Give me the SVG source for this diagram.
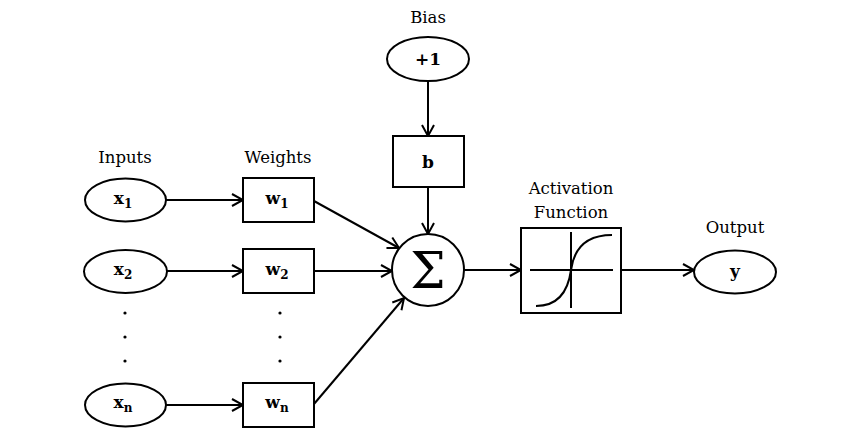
<svg xmlns="http://www.w3.org/2000/svg" width="868" height="433" viewBox="0 0 868 433">
<defs>
<marker id="arr" markerUnits="userSpaceOnUse" markerWidth="14" markerHeight="14" refX="12" refY="7" orient="auto">
<path d="M1,1 L12,7 L1,13" fill="none" stroke="#000" stroke-width="2"/>
</marker>
<style>
.sh{fill:#fff;stroke:#000;stroke-width:2}
.ln{fill:none;stroke:#000;stroke-width:2}
.lbl{font-family:"DejaVu Serif","Liberation Serif",serif;font-size:16.5px;fill:#000;text-anchor:middle}
.nd{font-family:"DejaVu Serif","Liberation Serif",serif;font-size:17px;font-weight:bold;fill:#000;text-anchor:middle}
.sub{font-size:12px}
.dot{fill:#000}
</style>
</defs>
<rect width="868" height="433" fill="#fff"/>
<text class="lbl" x="125" y="163">Inputs</text>
<text class="lbl" x="278" y="163">Weights</text>
<text class="lbl" x="428" y="23">Bias</text>
<text class="lbl" x="571" y="194">Activation</text>
<text class="lbl" x="571" y="218">Function</text>
<text class="lbl" x="735" y="233">Output</text>
<g id="connectors">
<line class="ln" x1="166" y1="200" x2="243" y2="200" marker-end="url(#arr)"/>
<line class="ln" x1="167" y1="271" x2="243" y2="271" marker-end="url(#arr)"/>
<line class="ln" x1="166" y1="405" x2="243" y2="405" marker-end="url(#arr)"/>
<line class="ln" x1="314" y1="201" x2="399" y2="248" marker-end="url(#arr)"/>
<line class="ln" x1="314" y1="271" x2="392" y2="271" marker-end="url(#arr)"/>
<line class="ln" x1="314" y1="404" x2="404" y2="298" marker-end="url(#arr)"/>
<line class="ln" x1="428" y1="81" x2="428" y2="136" marker-end="url(#arr)"/>
<line class="ln" x1="428" y1="187" x2="428" y2="234" marker-end="url(#arr)"/>
<line class="ln" x1="464" y1="270" x2="521" y2="270" marker-end="url(#arr)"/>
<line class="ln" x1="621" y1="270" x2="694" y2="270" marker-end="url(#arr)"/>
</g>
<g id="x1"><ellipse class="sh" cx="125.5" cy="200" rx="40.5" ry="21.5"/><text class="nd" x="123" y="204">x<tspan class="sub" dy="4">1</tspan></text></g>
<g id="x2"><ellipse class="sh" cx="125.5" cy="271.5" rx="41.5" ry="21.5"/><text class="nd" x="123" y="275">x<tspan class="sub" dy="4">2</tspan></text></g>
<g id="xn"><ellipse class="sh" cx="125.5" cy="405" rx="40.5" ry="21.5"/><text class="nd" x="123" y="408">x<tspan class="sub" dy="4">n</tspan></text></g>
<g id="dots-x"><circle class="dot" cx="125" cy="313" r="1.6"/><circle class="dot" cx="125" cy="337" r="1.6"/><circle class="dot" cx="125" cy="361" r="1.6"/></g>
<g id="w1"><rect class="sh" x="243" y="178" width="71" height="44"/><text class="nd" x="277" y="204">w<tspan class="sub" dy="4">1</tspan></text></g>
<g id="w2"><rect class="sh" x="243" y="249" width="71" height="44"/><text class="nd" x="277" y="275">w<tspan class="sub" dy="4">2</tspan></text></g>
<g id="wn"><rect class="sh" x="243" y="383" width="71" height="44"/><text class="nd" x="277" y="408">w<tspan class="sub" dy="4">n</tspan></text></g>
<g id="dots-w"><circle class="dot" cx="280" cy="313" r="1.6"/><circle class="dot" cx="280" cy="337" r="1.6"/><circle class="dot" cx="280" cy="361" r="1.6"/></g>
<g id="bias"><ellipse class="sh" cx="428" cy="59" rx="41" ry="22"/><text class="nd" x="428" y="65">+1</text></g>
<g id="b"><rect class="sh" x="393" y="136" width="71" height="51"/><text class="nd" x="428" y="168">b</text></g>
<g id="sum"><circle class="sh" cx="428" cy="270" r="36"/><text x="428" y="288" style="font-family:'DejaVu Serif','Liberation Serif',serif;font-size:50px;text-anchor:middle;fill:#000">Σ</text></g>
<g id="activation"><rect class="sh" x="521" y="228" width="100" height="85"/>
<line class="ln" x1="530" y1="270" x2="613" y2="270"/>
<line class="ln" x1="571" y1="232" x2="571" y2="308"/>
<path class="ln" d="M536,306 C557,306 568,292 571,270 C574,248 586,235 612,235"/></g>
<g id="y"><ellipse class="sh" cx="735" cy="272" rx="41" ry="21.5"/><text class="nd" x="735" y="277">y</text></g>
</svg>
